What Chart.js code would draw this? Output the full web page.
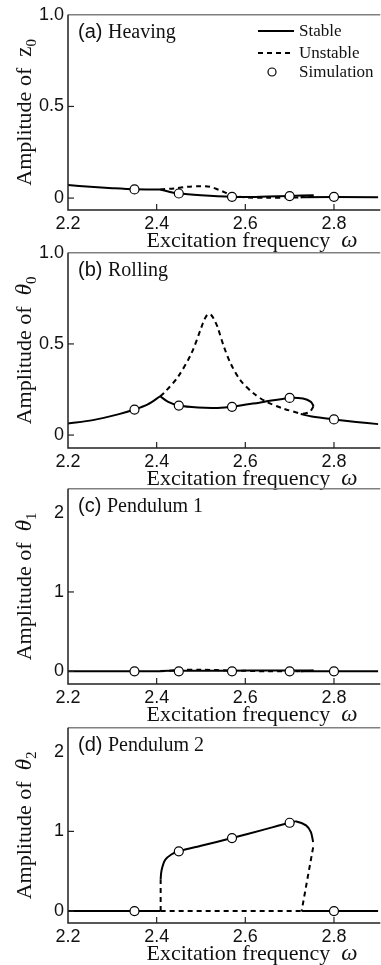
<!DOCTYPE html>
<html>
<head>
<meta charset="utf-8">
<script src="https://cdn.jsdelivr.net/npm/chart.js@4/dist/chart.umd.min.js"></script>
<style>
  html, body { margin: 0; padding: 0; background: #fff; width: 381px; height: 965px; overflow: hidden; }
  canvas { position: absolute; left: 0; }
</style>
</head>
<body>
<canvas id="chartA" width="384" height="252" style="top:0px"></canvas>
<canvas id="chartB" width="384" height="252" style="top:238px"></canvas>
<canvas id="chartC" width="384" height="252" style="top:474px"></canvas>
<canvas id="chartD" width="384" height="252" style="top:713px"></canvas>
<script>
// --- shared axis data ---
var xTicks = [2.2, 2.4, 2.6, 2.8];
var simX = [2.35, 2.45, 2.57, 2.70, 2.80];

// --- (a) heaving z0 ---
var aLowX = [2.2, 2.25, 2.3, 2.35, 2.408];
var aLowY = [0.071, 0.062, 0.054, 0.048, 0.047];
var aPeakX = [2.408, 2.44, 2.47, 2.50, 2.52, 2.54, 2.555, 2.57, 2.6, 2.65, 2.7, 2.725];
var aPeakY = [0.047, 0.053, 0.062, 0.065, 0.062, 0.045, 0.030, 0.014, 0.004, 0.002, 0.003, 0.004];
var aHighX = [2.725, 2.8, 2.9];
var aHighY = [0.005, 0.006, 0.005];
var aCoupX = [2.408, 2.43, 2.45, 2.5, 2.57, 2.6, 2.65, 2.7, 2.754];
var aCoupY = [0.047, 0.033, 0.025, 0.016, 0.007, 0.006, 0.009, 0.012, 0.015];
var aBackX = [2.754, 2.725];
var aBackY = [0.013, 0.005];
var aSimY = [0.047, 0.025, 0.007, 0.011, 0.007];

// --- (b) rolling theta0 ---
var bLowX = [2.2, 2.256, 2.315, 2.35, 2.38, 2.408];
var bLowY = [0.064, 0.082, 0.115, 0.140, 0.168, 0.213];
var bPeakX = [2.408, 2.419, 2.448, 2.478, 2.50, 2.506, 2.512, 2.518, 2.524, 2.530, 2.537, 2.552, 2.567, 2.589, 2.619, 2.648, 2.685, 2.725];
var bPeakY = [0.213, 0.237, 0.319, 0.446, 0.585, 0.625, 0.653, 0.665, 0.656, 0.632, 0.595, 0.483, 0.392, 0.300, 0.228, 0.182, 0.146, 0.117];
var bHighX = [2.725, 2.75, 2.80, 2.85, 2.9];
var bHighY = [0.115, 0.102, 0.086, 0.072, 0.060];
var bCoupX = [2.408, 2.426, 2.45, 2.493, 2.537, 2.57, 2.641, 2.70, 2.73, 2.748, 2.754];
var bCoupY = [0.213, 0.182, 0.162, 0.151, 0.149, 0.155, 0.182, 0.204, 0.200, 0.182, 0.158];
var bBackX = [2.754, 2.745, 2.733, 2.725];
var bBackY = [0.158, 0.127, 0.118, 0.117];
var bSimY = [0.140, 0.162, 0.155, 0.204, 0.086];

// --- (c) pendulum 1 theta1 ---
var cLowX = [2.2, 2.408];
var cLowY = [0, 0];
var cPeakX = [2.408, 2.45, 2.5, 2.57, 2.65, 2.725];
var cPeakY = [0, 0.015, 0.02, 0.01, 0, 0];
var cHighX = [2.725, 2.9];
var cHighY = [0, 0];
var cCoupX = [2.408, 2.45, 2.5, 2.57, 2.65, 2.7, 2.754];
var cCoupY = [0.005, 0.008, 0.008, 0.008, 0.01, 0.01, 0.01];
var cBackX = [2.754, 2.725];
var cBackY = [0.008, 0];
var cSimY = [0, 0, 0, 0, 0];

// --- (d) pendulum 2 theta2 ---
var dLowX = [2.2, 2.409];
var dLowY = [0, 0];
var dPeakX = [2.409, 2.727];
var dPeakY = [0, 0];
var dHighX = [2.727, 2.9];
var dHighY = [0, 0];
var dRiseX = [2.409, 2.409];
var dRiseY = [0, 0.40];
var dCoupX = [2.409, 2.411, 2.419, 2.433, 2.45, 2.5, 2.57, 2.64, 2.70, 2.715, 2.737, 2.748, 2.753];
var dCoupY = [0.40, 0.51, 0.64, 0.71, 0.75, 0.82, 0.916, 1.019, 1.108, 1.125, 1.075, 0.99, 0.866];
var dBackX = [2.753, 2.727];
var dBackY = [0.80, 0];
var dSimY = [0, 0.75, 0.916, 1.108, 0];

// --- y tick values / labels ---
var yTicksAB = [0, 0.5, 1.0];
var yLabelsAB = ['0', '0.5', '1.0'];
var yTicksCD = [0, 1, 2];
var yLabelsCD = ['0', '1', '2'];

var SERIF = '"Liberation Serif", "Times New Roman", serif';
var SANS = '"Liberation Sans", Arial, sans-serif';

function pts(xs, ys) {
  return xs.map(function (x, i) { return { x: x, y: ys[i] }; });
}

function curve(xs, ys, dashed, tension) {
  return {
    data: pts(xs, ys),
    showLine: true,
    borderColor: '#000',
    borderWidth: 2,
    borderDash: dashed ? [5, 4] : [],
    pointRadius: 0,
    tension: tension || 0,
    fill: false,
    order: 1
  };
}

function sims(ys) {
  return {
    data: pts(simX, ys),
    showLine: false,
    pointRadius: 4.5,
    pointBackgroundColor: '#fff',
    pointBorderColor: '#000',
    pointBorderWidth: 1.2,
    order: 0
  };
}

// draw a row of text runs (different fonts) starting at x
function drawRuns(ctx, runs, x, y) {
  runs.forEach(function (r) {
    ctx.font = r.font;
    ctx.fillText(r.text, x, y + (r.dy || 0));
    x += ctx.measureText(r.text).width;
  });
}
function runsWidth(ctx, runs) {
  var w = 0;
  runs.forEach(function (r) { ctx.font = r.font; w += ctx.measureText(r.text).width; });
  return w;
}

// frame, inward ticks, titles, panel label, legend
var decor = {
  id: 'decor',
  afterDraw: function (chart, args, opts) {
    var ctx = chart.ctx, a = chart.chartArea;
    var xs = chart.scales.x, ys = chart.scales.y;
    ctx.save();
    ctx.lineWidth = 1.5;
    ctx.strokeStyle = '#808080';
    ctx.beginPath(); ctx.moveTo(a.left, a.top); ctx.lineTo(a.right + 2, a.top); ctx.stroke();
    ctx.strokeStyle = '#222';
    ctx.beginPath(); ctx.moveTo(a.left, a.top); ctx.lineTo(a.left, a.bottom); ctx.lineTo(a.right + 2, a.bottom); ctx.stroke();
    ctx.lineWidth = 1.2;
    xTicks.slice(1).forEach(function (v) {
      var px = xs.getPixelForValue(v);
      ctx.beginPath(); ctx.moveTo(px, a.bottom); ctx.lineTo(px, a.bottom - 6); ctx.stroke();
    });
    opts.yTicks.slice(0, -1).forEach(function (v) {
      var py = ys.getPixelForValue(v);
      ctx.beginPath(); ctx.moveTo(a.left, py); ctx.lineTo(a.left + 6, py); ctx.stroke();
    });

    ctx.fillStyle = '#111';
    ctx.textBaseline = 'alphabetic';
    ctx.textAlign = 'left';

    // panel label
    drawRuns(ctx, [
      { text: opts.tag + ' ', font: '20px ' + SANS },
      { text: opts.name, font: '20px ' + SERIF }
    ], a.left + 10, a.top + 23);

    // x title
    var xr = [
      { text: 'Excitation frequency  ', font: '22px ' + SERIF },
      { text: '\u03c9', font: 'italic 23px ' + SERIF }
    ];
    var xw = runsWidth(ctx, xr);
    drawRuns(ctx, xr, 252 - xw / 2, a.bottom + 37);

    // y title (rotated)
    var yr = [
      { text: 'Amplitude of  ', font: '22px ' + SERIF },
      { text: opts.sym, font: (opts.sym === 'z' ? '' : 'italic ') + '23px ' + SERIF },
      { text: opts.sub, font: '15px ' + SERIF, dy: 5 }
    ];
    var yw = runsWidth(ctx, yr);
    ctx.save();
    ctx.translate(31, (a.top + a.bottom) / 2);
    ctx.rotate(-Math.PI / 2);
    drawRuns(ctx, yr, -yw / 2, 0);
    ctx.restore();

    // legend (panel a only)
    if (opts.legend) {
      ctx.strokeStyle = '#000';
      ctx.lineWidth = 2;
      ctx.beginPath(); ctx.moveTo(258, 31); ctx.lineTo(294, 31); ctx.stroke();
      ctx.setLineDash([5, 4]);
      ctx.beginPath(); ctx.moveTo(258, 53); ctx.lineTo(294, 53); ctx.stroke();
      ctx.setLineDash([]);
      ctx.lineWidth = 1.2;
      ctx.fillStyle = '#fff';
      ctx.beginPath(); ctx.arc(272, 72, 4, 0, Math.PI * 2); ctx.fill(); ctx.stroke();
      ctx.fillStyle = '#111';
      ctx.font = '17px ' + SERIF;
      ctx.fillText('Stable', 299, 36);
      ctx.fillText('Unstable', 299, 58);
      ctx.fillText('Simulation', 299, 77);
    }
    ctx.restore();
  }
};

function makeChart(id, datasets, yMin, yMax, yTicks, yLabels, deco) {
  deco.yTicks = yTicks;
  return new Chart(document.getElementById(id), {
    type: 'scatter',
    data: { datasets: datasets },
    options: {
      responsive: false,
      animation: false,
      devicePixelRatio: 1,
      layout: { padding: { top: 14, right: 1, left: 0, bottom: 0 } },
      plugins: {
        legend: { display: false },
        tooltip: { enabled: false },
        decor: deco
      },
      scales: {
        x: {
          type: 'linear', min: 2.2, max: 2.9,
          afterBuildTicks: function (s) { s.ticks = xTicks.map(function (v) { return { value: v }; }); },
          afterFit: function (s) { s.height = 42; },
          grid: { display: false, drawTicks: false },
          border: { display: false },
          ticks: {
            padding: 3, color: '#111', autoSkip: false, maxRotation: 0,
            font: { family: SANS, size: 18 },
            callback: function (v) { return v.toFixed(1); }
          }
        },
        y: {
          type: 'linear', min: yMin, max: yMax,
          afterBuildTicks: function (s) { s.ticks = yTicks.map(function (v) { return { value: v }; }); },
          afterFit: function (s) { s.width = 68; },
          grid: { display: false, drawTicks: false },
          border: { display: false },
          ticks: {
            padding: 4, color: '#111',
            font: { family: SANS, size: 18 },
            callback: function (v, i) { return yLabels[i]; }
          }
        }
      }
    },
    plugins: [decor]
  });
}

makeChart('chartA', [
  sims(aSimY),
  curve(aLowX, aLowY, false, 0.3),
  curve(aPeakX, aPeakY, true, 0.3),
  curve(aHighX, aHighY, false, 0),
  curve(aCoupX, aCoupY, false, 0.3),
  curve(aBackX, aBackY, true, 0)
], -0.065, 1.0, yTicksAB, yLabelsAB, { tag: '(a)', name: 'Heaving', sym: 'z', sub: '0', legend: true });

makeChart('chartB', [
  sims(bSimY),
  curve(bLowX, bLowY, false, 0.3),
  curve(bPeakX, bPeakY, true, 0.3),
  curve(bHighX, bHighY, false, 0.3),
  curve(bCoupX, bCoupY, false, 0.3),
  curve(bBackX, bBackY, true, 0.3)
], -0.071, 1.0, yTicksAB, yLabelsAB, { tag: '(b)', name: 'Rolling', sym: '\u03b8', sub: '0' });

makeChart('chartC', [
  sims(cSimY),
  curve(cLowX, cLowY, false, 0),
  curve(cPeakX, cPeakY, true, 0.3),
  curve(cHighX, cHighY, false, 0),
  curve(cCoupX, cCoupY, false, 0.3),
  curve(cBackX, cBackY, true, 0)
], -0.16, 2.30, yTicksCD, yLabelsCD, { tag: '(c)', name: 'Pendulum 1', sym: '\u03b8', sub: '1' });

makeChart('chartD', [
  sims(dSimY),
  curve(dLowX, dLowY, false, 0),
  curve(dPeakX, dPeakY, true, 0),
  curve(dHighX, dHighY, false, 0),
  curve(dRiseX, dRiseY, true, 0),
  curve(dCoupX, dCoupY, false, 0.3),
  curve(dBackX, dBackY, true, 0)
], -0.15, 2.30, yTicksCD, yLabelsCD, { tag: '(d)', name: 'Pendulum 2', sym: '\u03b8', sub: '2' });
</script>
</body>
</html>
